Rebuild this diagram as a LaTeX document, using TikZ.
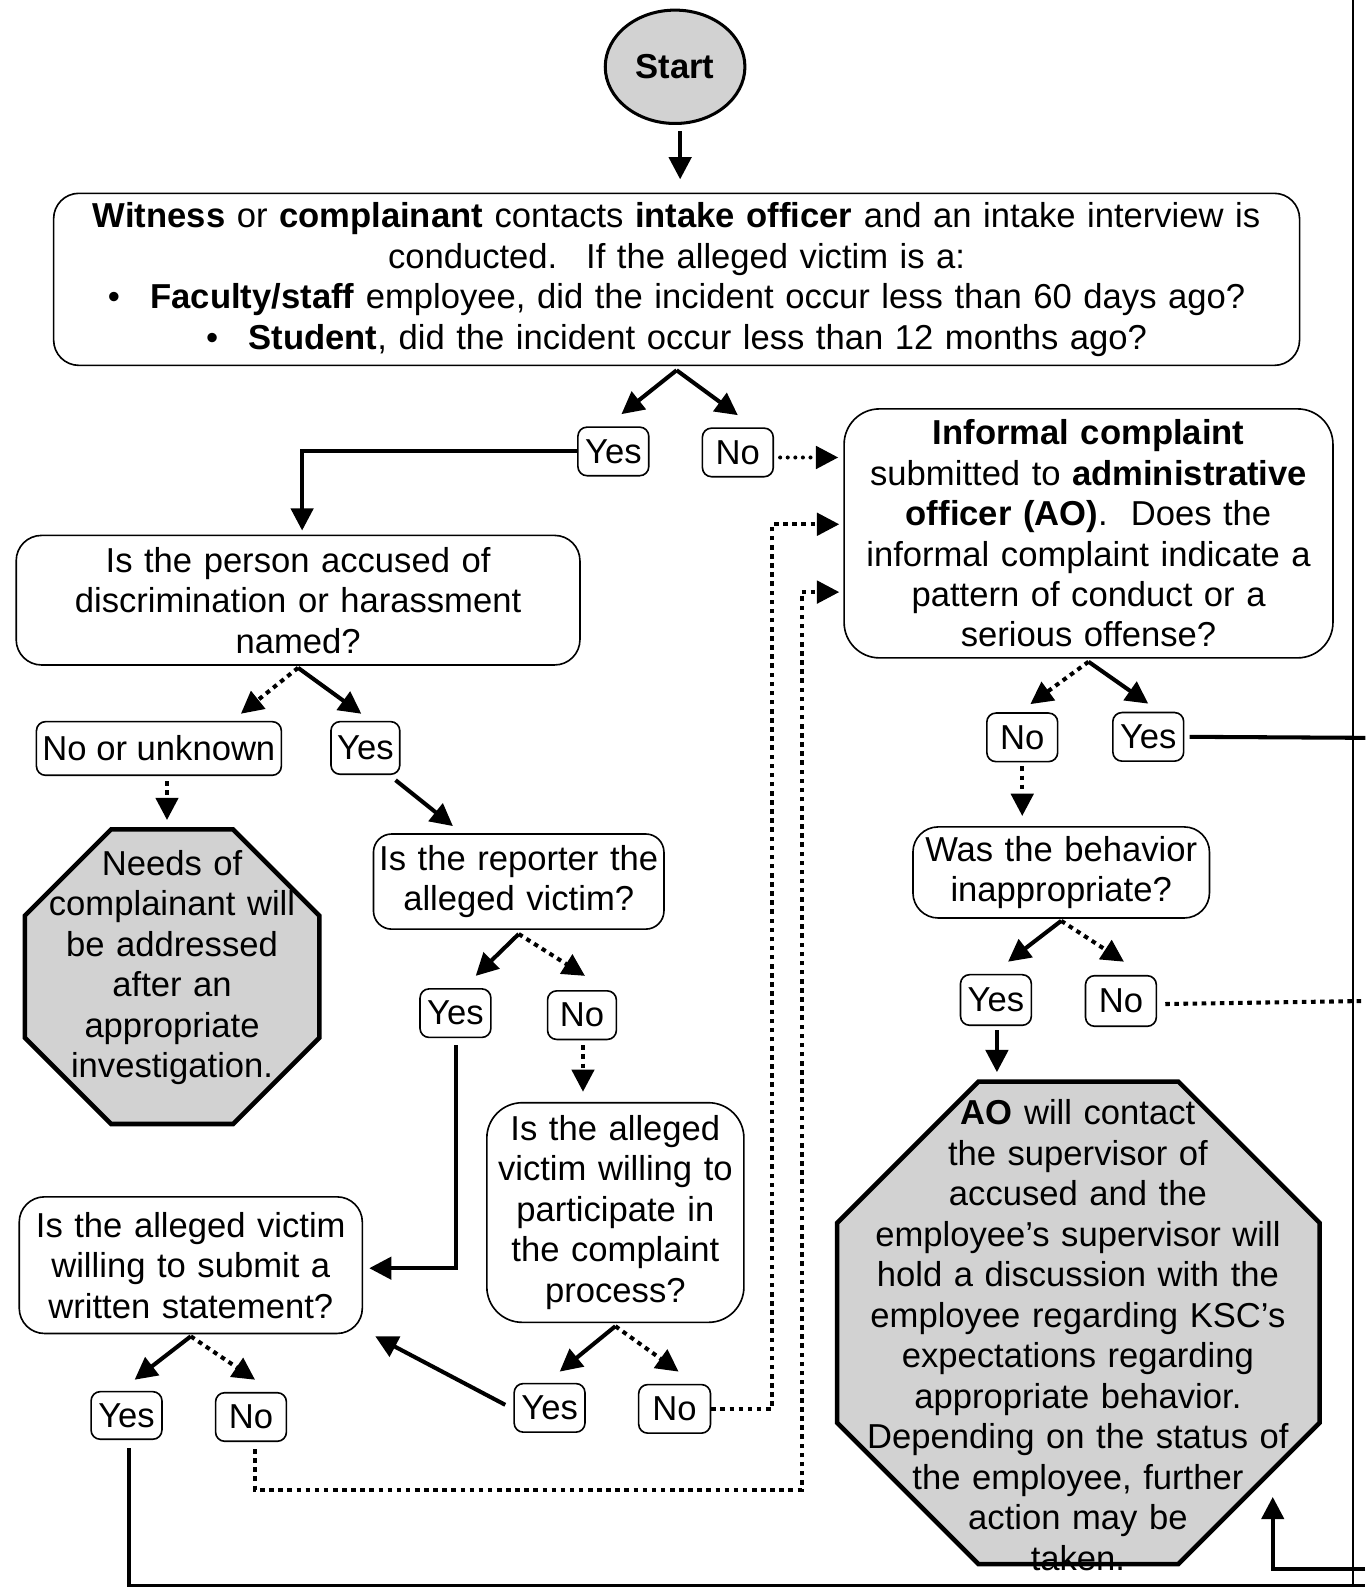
\documentclass[tikz,border=0pt]{standalone}
\usepackage{fontspec}
\setmainfont{Liberation Sans}
\usepackage{tikz}
\usetikzlibrary{shapes, shapes.geometric, arrows.meta, positioning, calc}
\newcommand{\chartfont}{\fontsize{34.2}{40}\selectfont}
\tikzstyle{startstop} = [ellipse, draw=black, line width=3pt, fill=gray!35, minimum width=138pt, minimum height=112pt, font=\chartfont\bfseries]
\tikzstyle{question} = [rectangle, rounded corners=25pt, draw=black, line width=1.6pt, align=center, inner sep=0pt, font=\chartfont]
\tikzstyle{answer} = [rectangle, rounded corners=9pt, draw=black, line width=1.6pt, minimum width=70pt, minimum height=48pt, inner sep=0pt, font=\chartfont]
\tikzstyle{stopsign} = [regular polygon, regular polygon sides=8, draw=black, line width=4.5pt, fill=gray!35, inner sep=0pt]
\tikzstyle{stoptext} = [align=center, inner sep=0pt, font=\chartfont]
\tikzstyle{flow} = [line width=4pt, -{Triangle[length=22pt, width=22pt]}]
\tikzstyle{dflow} = [line width=4pt, dash pattern=on 4.5pt off 4.5pt, -{Triangle[length=22pt, width=22pt]}]
\tikzstyle{dots} = [line width=4pt, line cap=round, dash pattern=on 0pt off 7.5pt, -{Triangle[length=22pt, width=22pt]}]
\tikzstyle{link} = [line width=4pt]
\tikzstyle{dlink} = [line width=4pt, dash pattern=on 4.5pt off 4.5pt]
\tikzstyle{frame} = [line width=1.5pt]

\begin{document}
\begin{tikzpicture}[x=1pt, y=-1pt]
\useasboundingbox (0,0) rectangle (1349,1568);

% page frame on the right
\coordinate (pagetop) at (1337,0);
\coordinate (pagebot) at (1337,1568);
\draw [frame] (pagetop) -- (pagebot);

% top
\node (start) [startstop] at (667,66) {Start};
\node (intake) [question, text width=1215pt, minimum width=1231pt, minimum height=170pt] at (668.5,276) {\textbf{Witness} or \textbf{complainant} contacts \textbf{intake officer} and an intake interview is\\ conducted.~ If the alleged victim is a:\\ \textbullet\hspace{30pt}\textbf{Faculty/staff} employee, did the incident occur less than 60 days ago?\\ \textbullet\hspace{30pt}\textbf{Student}, did the incident occur less than 12 months ago?};
\node (yesA) [answer] at (606,446) {Yes};
\node (noA) [answer] at (729,447) {No};

% informal side
\node (informal) [question, rounded corners=35pt, text width=470pt, minimum width=483pt, minimum height=246pt] at (1075.5,527) {\textbf{Informal complaint}\\ submitted to \textbf{administrative}\\ \textbf{officer (AO)}.~ Does the\\ informal complaint indicate a\\ pattern of conduct or a\\ serious offense?};
\node (noF) [answer] at (1010,728.5) {No};
\node (yesF) [answer] at (1134.5,728) {Yes};
\node (behavior) [question, text width=285pt, minimum width=293pt, minimum height=90pt] at (1048.5,862) {Was the behavior\\ inappropriate?};
\node (yesG) [answer, minimum height=50pt] at (984,988) {Yes};
\node (noG) [answer, minimum height=50pt] at (1107.5,989) {No};
\node (stopB) [stopsign, minimum size=516pt] at (1065.5,1307) {};
\node (stopBtext) [stoptext, text width=470pt] at (1065,1319) {\textbf{AO} will contact\\ the supervisor of\\ accused and the\\ employee’s supervisor will\\ hold a discussion with the\\ employee regarding KSC’s\\ expectations regarding\\ appropriate behavior.\\ Depending on the status of\\ the employee, further\\ action may be\\ taken.};

% formal side
\node (accused) [question, text width=540pt, minimum width=557pt, minimum height=128pt] at (294.5,593) {Is the person accused of\\ discrimination or harassment\\ named?};
\node (unknownA) [answer, minimum width=242pt, minimum height=53pt] at (157,739.5) {No or unknown};
\node (yesB) [answer, minimum width=68pt, minimum height=52pt] at (361,739) {Yes};
\node (stopA) [stopsign, minimum size=315pt] at (170,965) {};
\node (stopAtext) [stoptext, text width=280pt] at (170,956) {Needs of\\ complainant will\\ be addressed\\ after an\\ appropriate\\ investigation.};
\node (reporter) [question, rounded corners=18pt, text width=284pt, minimum width=287pt, minimum height=94pt] at (512.5,871) {Is the reporter the\\ alleged victim?};
\node (yesC) [answer] at (450,1001) {Yes};
\node (noC) [answer, minimum width=68pt] at (575,1003) {No};
\node (participate) [question, rounded corners=35pt, text width=245pt, minimum width=254pt, minimum height=217pt] at (608,1198) {Is the alleged\\ victim willing to\\ participate in\\ the complaint\\ process?};
\node (yesD) [answer] at (543,1391) {Yes};
\node (noD) [answer, minimum width=71pt] at (666.5,1392) {No};
\node (statement) [question, text width=330pt, minimum width=339pt, minimum height=135pt] at (188.5,1250) {Is the alleged victim\\ willing to submit a\\ written statement?};
\node (yesE) [answer, minimum height=47pt] at (125,1398.5) {Yes};
\node (noE) [answer] at (248,1400) {No};

% loose ends at the page edge
\coordinate (rimA) at (1349,729);
\coordinate (rimB) at (1349,989);
\coordinate (rimC) at (1349,1567);
\coordinate (rimD) at (1349,1550);

% splits
\coordinate (splitA) at ([yshift=-4pt]intake.south);
\coordinate (splitB) at ([yshift=-2pt]accused.south);
\coordinate (splitC) at ([yshift=-4pt]reporter.south);
\coordinate (splitD) at ([yshift=-3pt]participate.south);
\coordinate (splitE) at ([yshift=-2pt]statement.south);
\coordinate (splitF) at ([yshift=-3pt]informal.south);
\coordinate (splitG) at ([yshift=-2pt]behavior.south);

\draw [flow] ([xshift=5pt,yshift=-6pt]start.south) -- ([xshift=5pt,yshift=13pt]intake.north -| start.south);
\draw [flow] (splitA) -- ([xshift=8pt,yshift=12pt]yesA.north);
\draw [flow] (splitA) -- ([yshift=12pt]noA.north);
\draw [flow] (yesA.west) -| ([xshift=4pt,yshift=4pt]accused.north);
\draw [dots] ([xshift=6pt,yshift=-5pt]noA.east) -- ([xshift=-5pt,yshift=-5pt]noA.east -| informal.west);

\draw [dflow] (splitB) -- ([xshift=81pt,yshift=7pt]unknownA.north);
\draw [flow] (splitB) -- ([xshift=-4pt,yshift=7pt]yesB.north);
\draw [dflow] ([xshift=8pt,yshift=-5pt]unknownA.south) -- ([xshift=8pt,yshift=7pt]unknownA.south |- stopA.north);
\draw [flow] ([xshift=-5pt,yshift=-5pt]yesB.south east) -- ([xshift=-65pt,yshift=7pt]reporter.north);

\draw [flow] (splitC) -- ([xshift=20pt,yshift=12pt]yesC.north);
\draw [dflow] (splitC) -- ([xshift=3pt,yshift=14pt]noC.north);
\draw [flow] ([xshift=1pt,yshift=-7pt]yesC.south) |- ([xshift=6pt,yshift=-3pt]statement.east);
\draw [dflow] ([xshift=1pt,yshift=-5pt]noC.south) -- ([xshift=1pt,yshift=10pt]noC.south |- participate.north);

\draw [flow] (splitD) -- ([xshift=10pt,yshift=11pt]yesD.north);
\draw [dflow] (splitD) -- ([xshift=4pt,yshift=12pt]noD.north);
\draw [flow] ([xshift=-8pt,yshift=3pt]yesD.west) -- ([xshift=12pt,yshift=-2pt]statement.south east);
\draw [dflow] (noD.east) -- ++(60,0) |- ([xshift=-4pt,yshift=9pt]informal.west);

\draw [flow] (splitE) -- ([xshift=8pt,yshift=11pt]yesE.north);
\draw [dflow] (splitE) -- ([xshift=4pt,yshift=12pt]noE.north);
\draw [link] ([xshift=2pt,yshift=-8pt]yesE.south) |- (rimC);
\draw [dflow] ([xshift=4pt,yshift=-7pt]noE.south) -- ++(0,40) -- ++(540,0) |- ([xshift=-4pt,yshift=-58pt]informal.west);

\draw [dflow] (splitF) -- ([xshift=8pt,yshift=8pt]noF.north);
\draw [flow] (splitF) -- ([yshift=8pt]yesF.north);
\draw [link] ([xshift=5pt]yesF.east) -- (rimA);
\draw [dflow] ([yshift=-4pt]noF.south) -- ([yshift=10pt]noF.south |- behavior.north);

\draw [flow] (splitG) -- ([xshift=12pt,yshift=12pt]yesG.north);
\draw [dflow] (splitG) -- ([xshift=3pt,yshift=13pt]noG.north);
\draw [dlink] ([xshift=8pt,yshift=-3pt]noG.east) -- (rimB);
\draw [flow] ([xshift=1pt,yshift=-4pt]yesG.south) -- ([xshift=1pt,yshift=7pt]yesG.south |- stopB.north);
\draw [flow] (rimD) -| ([xshift=192pt,yshift=-172pt]stopB.center);
\end{tikzpicture}
\end{document}
